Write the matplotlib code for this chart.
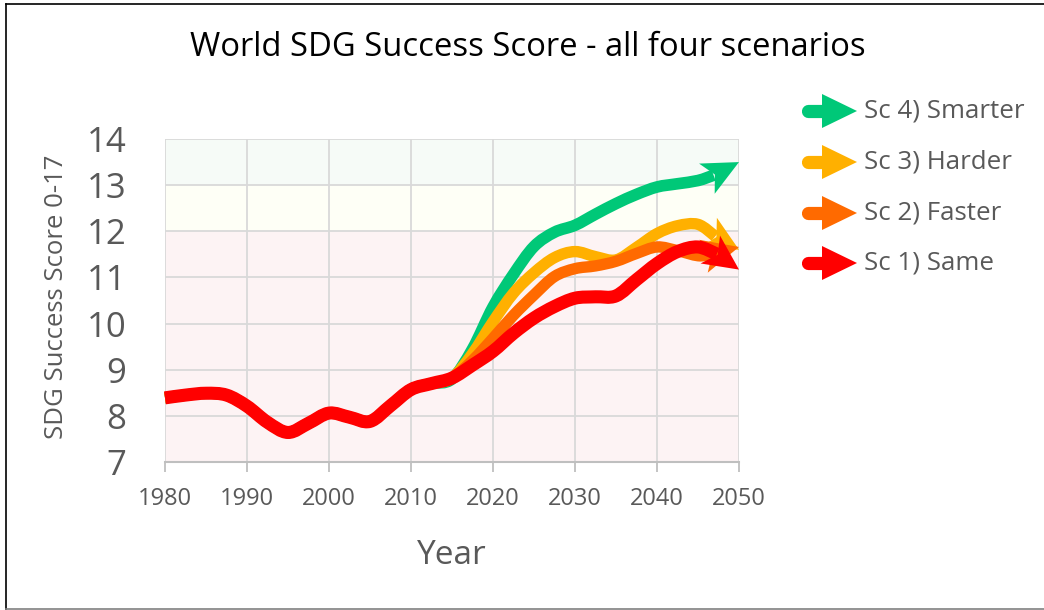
import matplotlib
matplotlib.use("Agg")
import numpy as np
import matplotlib.pyplot as plt
from matplotlib.patches import Polygon, PathPatch
from matplotlib.path import Path
from matplotlib.lines import Line2D

# ---------------- data ----------------
hist_years = [1980, 1982.5, 1985, 1987.5, 1990, 1992.5, 1995, 1997.5, 2000, 2002.5,
              2005, 2007.5, 2010, 2012.5, 2015]
hist_values = [8.39, 8.45, 8.49, 8.45, 8.21, 7.86, 7.64, 7.84, 8.06, 7.97,
               7.88, 8.22, 8.57, 8.70, 8.82]

future_years = [2015, 2017.5, 2020, 2022.5, 2025, 2027.5, 2030, 2032.5, 2035,
                2037.5, 2040, 2042.5, 2045]

sc4_values = [8.80, 9.45, 10.36, 11.07, 11.67, 11.98, 12.13, 12.37, 12.60, 12.80, 12.96, 13.03, 13.10]
sc3_values = [8.82, 9.35, 10.04, 10.66, 11.10, 11.43, 11.56, 11.45, 11.38, 11.65, 11.95, 12.12, 12.15]
sc2_values = [8.82, 9.20, 9.68, 10.18, 10.62, 11.02, 11.19, 11.25, 11.35, 11.52, 11.66, 11.58, 11.47]
sc1_values = [8.82, 9.10, 9.40, 9.79, 10.12, 10.37, 10.55, 10.58, 10.60, 10.95, 11.30, 11.56, 11.66]

# arrow base (year, value) and tip (year, value) per scenario
sc4_arrow = [(2046.3, 13.16), (2050, 13.50)]
sc3_arrow = [(2046.5, 11.95), (2050, 11.60)]
sc2_arrow = [(2045.9, 11.47), (2050, 11.66)]
sc1_arrow = [(2046.7, 11.58), (2050, 11.17)]

labels = ["Sc 4) Smarter", "Sc 3) Harder", "Sc 2) Faster", "Sc 1) Same"]
colors = ["#00c878", "#ffb000", "#ff6a00", "#ff0000"]
x_ticks = [1980, 1990, 2000, 2010, 2020, 2030, 2040, 2050]
y_ticks = [7, 8, 9, 10, 11, 12, 13, 14]

title = "World SDG Success Score - all four scenarios"
x_label = "Year"
y_label = "SDG Success Score 0-17"

# ---------------- figure ----------------
W, H = 1044, 610
fig = plt.figure(figsize=(W / 100, H / 100), dpi=100)
ax_l, ax_r, ax_t, ax_b = 165, 739, 139, 462
ax = fig.add_axes([ax_l / W, 1 - ax_b / H, (ax_r - ax_l) / W, (ax_b - ax_t) / H])

ax.set_xlim(1980, 2050)
ax.set_ylim(7, 14)

# background bands
ax.axhspan(13, 14, color="#f6fbf7", zorder=0, lw=0)
ax.axhspan(12, 13, color="#fefff6", zorder=0, lw=0)
ax.axhspan(7, 12, color="#fdf3f4", zorder=0, lw=0)

ax.set_xticks(x_ticks)
ax.set_yticks(y_ticks)
ax.grid(True, color="#d9d9d9", lw=1.3, zorder=1)
for s in ["top", "right", "left"]:
    ax.spines[s].set_visible(False)
ax.spines["bottom"].set_color("#bfbfbf")
ax.spines["bottom"].set_linewidth(1.5)
ax.tick_params(axis="x", length=7, width=1.3, color="#bfbfbf", labelsize=17,
               labelcolor="#595959", pad=11)
ax.tick_params(axis="y", length=0, labelsize=25, labelcolor="#595959", pad=28)
for lab in ax.get_xticklabels() + ax.get_yticklabels():
    lab.set_fontfamily("Open Sans")


def smooth_path(xs, ys):
    """Cubic Bezier path passing through the given points (Catmull-Rom style)."""
    P = np.column_stack([xs, ys]).astype(float)
    n = len(P)
    verts = [P[0]]
    codes = [Path.MOVETO]
    for i in range(n - 1):
        p0 = P[i - 1] if i > 0 else P[i]
        p1 = P[i]
        p2 = P[i + 1]
        p3 = P[i + 2] if i + 2 < n else P[i + 1]
        c1 = p1 + (p2 - p0) / 6.0
        c2 = p2 - (p3 - p1) / 6.0
        verts += [c1, c2, p2]
        codes += [Path.CURVE4] * 3
    return Path(verts, codes)


def arrow_head(base, tip, half_w_px=17, notch_px=7):
    td = ax.transData
    b = td.transform(base)
    t = td.transform(tip)
    d = t - b
    L = np.hypot(*d)
    u = d / L
    nrm = np.array([-u[1], u[0]])
    c1 = b + nrm * half_w_px - u * 2
    c2 = b - nrm * half_w_px - u * 2
    notch = b + u * notch_px
    pts = np.array([t, c1, notch, c2])
    return td.inverted().transform(pts)


series = [sc4_values, sc3_values, sc2_values, sc1_values]
arrows = [sc4_arrow, sc3_arrow, sc2_arrow, sc1_arrow]
widths = [8.4, 8.2, 8.2, 9.4]

for i, (vals, arr, c, lw) in enumerate(zip(series, arrows, colors, widths)):
    xs = hist_years[:-1] + future_years + [arr[0][0] + 0.6]
    ys = hist_values[:-1] + vals + [arr[0][1] + (arr[1][1] - arr[0][1]) * 0.6 / (arr[1][0] - arr[0][0])]
    pp = PathPatch(smooth_path(xs, ys), fill=False, edgecolor=c, lw=lw,
                   capstyle="butt", joinstyle="round", zorder=3 + i, clip_on=False)
    ax.add_patch(pp)
    head = Polygon(arrow_head(arr[0], arr[1]), closed=True, facecolor=c, lw=0,
                   zorder=3 + i, clip_on=False)
    ax.add_patch(head)

ax.set_xlabel(x_label, fontsize=24, color="#595959", family="Open Sans", labelpad=20)
ax.set_ylabel(y_label, fontsize=18.5, color="#595959", family="Open Sans", va="center")
ax.yaxis.set_label_coords((57 - ax_l) / (ax_r - ax_l), 1 - (297 - ax_t) / (ax_b - ax_t))

t = fig.text(528 / W, 1 - 48 / H, title, fontsize=22, color="black",
             family="Open Sans", ha="center", va="center")
renderer = fig.canvas.get_renderer()
w = t.get_window_extent(renderer).width
t.set_fontsize(22 * 676 / w)

# legend with arrows
leg_y = [111, 162, 213, 263]
for lab, c, yy in zip(labels, colors, leg_y):
    yf = 1 - yy / H
    fig.add_artist(Line2D([808 / W, 826 / W], [yf, yf], color=c, lw=9.5,
                          solid_capstyle="round", transform=fig.transFigure))
    head = Polygon([[822 / W, 1 - (yy - 17) / H], [857 / W, yf], [822 / W, 1 - (yy + 17) / H]],
                   closed=True, color=c, lw=0, transform=fig.transFigure)
    fig.add_artist(head)
    fig.text(864 / W, yf, lab, fontsize=18.6, color="#595959", family="Open Sans",
             ha="left", va="center")

# figure border
fig.add_artist(Line2D([5.5 / W, 5.5 / W], [1 - 4 / H, 1 - 609 / H], color="black", lw=1.2,
                      transform=fig.transFigure))
fig.add_artist(Line2D([5.5 / W, 1.0], [1 - 4 / H, 1 - 4 / H], color="black", lw=1.2,
                      transform=fig.transFigure))
fig.add_artist(Line2D([5.5 / W, 1.0], [1 - 609 / H, 1 - 609 / H], color="#808080", lw=1.2,
                      transform=fig.transFigure))

fig.savefig("out.png", dpi=100)
